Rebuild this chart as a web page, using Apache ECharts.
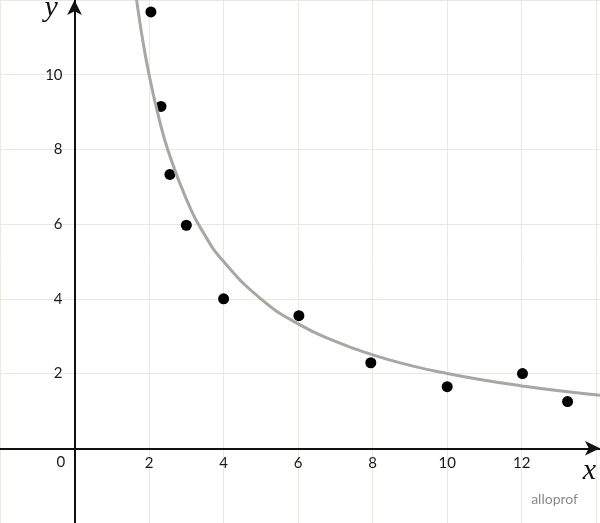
<!DOCTYPE html>
<html><head><meta charset="utf-8">
<script src="https://cdn.jsdelivr.net/npm/echarts@6/dist/echarts.min.js"></script>
<style>html,body{margin:0;padding:0;background:#fff}#c{width:600px;height:523px}</style>
</head><body><div id="c"></div>
<script>
// Observed points
var pointX = [2.05, 2.32, 2.56, 3.0, 4.0, 6.02, 7.95, 10.0, 12.02, 13.23];
var pointY = [11.68, 9.15, 7.33, 5.97, 4.0, 3.55, 2.29, 1.65, 2.0, 1.25];
// Fitted curve, values
var curveX = [1.6, 1.8, 2, 2.25, 2.5, 3, 3.5, 4, 5, 6, 7, 8, 9, 10, 11, 12, 13, 14.1];
var curveY = [12.5, 11.1, 10, 8.9, 8, 6.67, 5.7, 5, 4, 3.33, 2.86, 2.5, 2.22, 2, 1.82, 1.67, 1.54, 1.42];
var xTicks = [2, 4, 6, 8, 10, 12];
var yTicks = [2, 4, 6, 8, 10];

var chart = echarts.init(document.getElementById('c'));
var font = 'Lato, "Noto Sans", sans-serif';
var serif = '"Liberation Serif", "DejaVu Serif", serif';
function axisBase() {
  return {
    type: 'value', interval: 2,
    axisLine: { onZero: false, lineStyle: { color: '#111', width: 2 }, symbol: ['none', 'arrow'], symbolSize: [11, 15] },
    axisTick: { show: false },
    splitLine: { show: true, lineStyle: { color: '#ece7df', width: 1 } }
  };
}
var xa = Object.assign(axisBase(), {
  min: -2, max: 14.1,
  axisLabel: { color: '#1a1a1a', fontSize: 15, fontFamily: font, margin: 7,
    formatter: function (v) { return xTicks.indexOf(v) >= 0 ? String(v) : ''; } }
});
var ya = Object.assign(axisBase(), {
  min: -2, max: 12,
  axisLabel: { color: '#1a1a1a', fontSize: 15, fontFamily: font, margin: 12,
    formatter: function (v) { return yTicks.indexOf(v) >= 0 ? String(v) : ''; } }
});
chart.setOption({
  animation: false,
  grid: { left: 0, right: 0, top: 0, bottom: 0, outerBoundsMode: 'none', containLabel: false },
  xAxis: xa,
  yAxis: ya,
  series: [
    { type: 'line', smooth: true, symbol: 'none', clip: true,
      lineStyle: { color: '#a9a6a3', width: 3 },
      data: curveX.map(function (x, i) { return [x, curveY[i]]; }) },
    { type: 'scatter', symbolSize: 11, itemStyle: { color: '#000', opacity: 1 },
      data: pointX.map(function (x, i) { return [x, pointY[i]]; }) }
  ]
});
var o = chart.convertToPixel({ gridIndex: 0 }, [0, 0]);
var W = chart.getWidth(), H = chart.getHeight();
chart.setOption({
  xAxis: { offset: -(H - o[1]) },
  yAxis: { offset: -o[0] },
  graphic: [
    { type: 'text', left: o[0] - 18, top: o[1] + 6, style: { text: '0', fontSize: 15, fontFamily: font, fill: '#1a1a1a' } },
    { type: 'text', right: 4, top: o[1] + 8, style: { text: 'x', fontSize: 30, fontStyle: 'italic', fontFamily: serif, fill: '#111' } },
    { type: 'text', left: o[0] - 30, top: -7, style: { text: 'y', fontSize: 30, fontStyle: 'italic', fontFamily: serif, fill: '#111' } },
    { type: 'text', right: 22, bottom: 17, style: { text: 'alloprof', fontSize: 14, fontFamily: font, fill: '#8a8a8a' } }
  ]
});
</script></body></html>
